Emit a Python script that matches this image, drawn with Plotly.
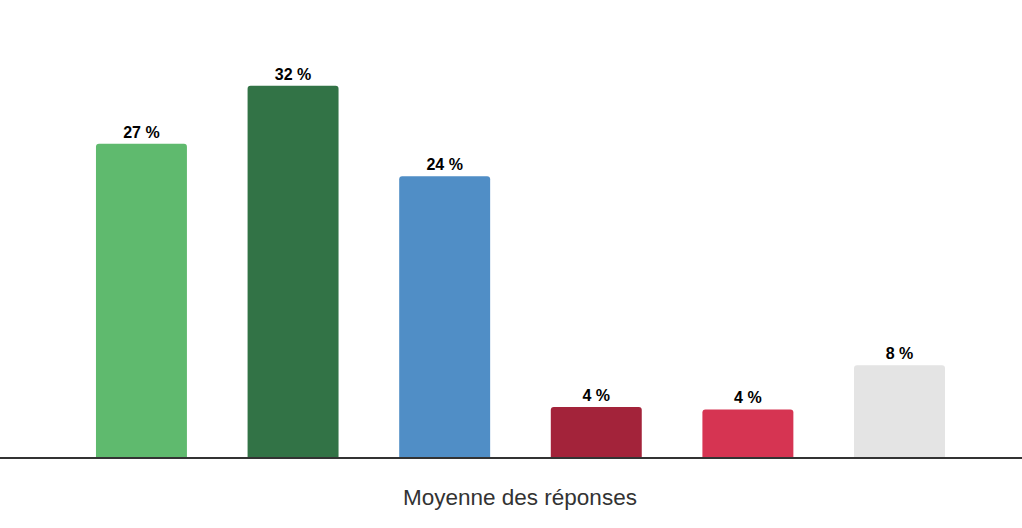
import plotly.graph_objects as go

categories = ["Tout à fait d'accord", "Plutôt d'accord", "Neutre",
              "Plutôt pas d'accord", "Pas du tout d'accord", "Ne sait pas"]
values = [27.0, 32.0, 24.2, 4.3, 4.1, 7.9]
colors = ["#5FBA6E", "#327346", "#508EC6", "#A3233A", "#D63452", "#E4E4E4"]

fig = go.Figure(go.Bar(
    x=categories,
    y=values,
    width=0.6,
    marker=dict(color=colors, cornerradius=3, line=dict(width=0)),
    texttemplate="%{y:.0f} %",
    textposition="outside",
    cliponaxis=False,
    textfont=dict(family="Liberation Sans, Arial, sans-serif", size=16, color="#000000", weight="bold"),
    hoverinfo="skip",
))

plot_h = 457
fig.update_layout(
    width=1022, height=528,
    margin=dict(l=0, r=0, t=0, b=71),
    paper_bgcolor="white", plot_bgcolor="white",
    showlegend=False,
    xaxis=dict(range=[-0.933, 5.808], showticklabels=False, ticks="",
               showgrid=False, zeroline=False, showline=True,
               linecolor="#333333", linewidth=2, fixedrange=True),
    yaxis=dict(range=[0, 39.4], visible=False, showgrid=False, zeroline=False),
    annotations=[dict(text="Moyenne des réponses", x=519.5 / 1022, y=(plot_h - 497) / plot_h,
                      xref="paper", yref="paper", yanchor="middle",
                      xanchor="center", showarrow=False,
                      font=dict(family="Liberation Sans, Arial, sans-serif", size=22.5, color="#333333"))],
)

fig.write_html("out.html", config={"displayModeBar": False},
               post_script="document.body.style.margin='0';")
